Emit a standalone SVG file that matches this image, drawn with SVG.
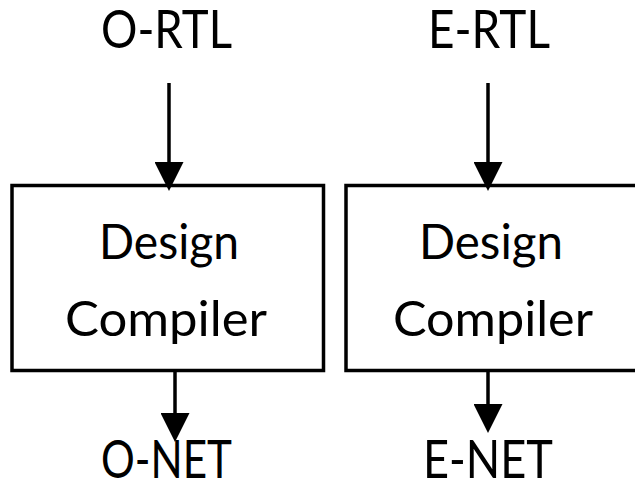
<svg xmlns="http://www.w3.org/2000/svg" width="635" height="481" viewBox="0 0 635 481">
<style>
.box{fill:#fff;stroke:#000;stroke-width:3.5}
.lbl{font-family:Lato,"Liberation Sans",sans-serif;fill:#000;text-anchor:middle}
.big{font-size:53px}
.mid{font-size:48px}
.edge{stroke:#000;stroke-width:3.5;fill:none;marker-end:url(#ah)}
</style>
<defs>
<marker id="ah" markerUnits="userSpaceOnUse" markerWidth="29" markerHeight="29" refX="19" refY="14.5" orient="auto">
<path d="M0,0 L29,14.5 L0,29 z" fill="#000"/>
</marker>
</defs>
<rect width="635" height="481" fill="#fff"/>
<g id="o-rtl"><text class="lbl big" x="166.5" y="48" textLength="131" lengthAdjust="spacingAndGlyphs">O-RTL</text></g>
<g id="e-rtl"><text class="lbl big" x="489" y="48" textLength="122" lengthAdjust="spacingAndGlyphs">E-RTL</text></g>
<g id="dc-left">
<rect class="box" x="12" y="185.5" width="311.5" height="185"/>
<text class="lbl mid" x="169" y="259" textLength="140" lengthAdjust="spacingAndGlyphs">Design</text>
<text class="lbl mid" x="166" y="336" textLength="202" lengthAdjust="spacingAndGlyphs">Compiler</text>
</g>
<g id="dc-right">
<rect class="box" x="346" y="185.5" width="300" height="185"/>
<text class="lbl mid" x="491" y="259" textLength="144" lengthAdjust="spacingAndGlyphs">Design</text>
<text class="lbl mid" x="493" y="336" textLength="200" lengthAdjust="spacingAndGlyphs">Compiler</text>
</g>
<g id="o-net"><text class="lbl big" x="166.5" y="478" textLength="131" lengthAdjust="spacingAndGlyphs">O-NET</text></g>
<g id="e-net"><text class="lbl big" x="488" y="478" textLength="130" lengthAdjust="spacingAndGlyphs">E-NET</text></g>
<g id="connectors">
<line class="edge" x1="169" y1="83" x2="169" y2="181"/>
<line class="edge" x1="488" y1="83" x2="488" y2="181"/>
<line class="edge" x1="175" y1="372" x2="175" y2="432"/>
<line class="edge" x1="488" y1="372" x2="488" y2="423"/>
</g>
</svg>
